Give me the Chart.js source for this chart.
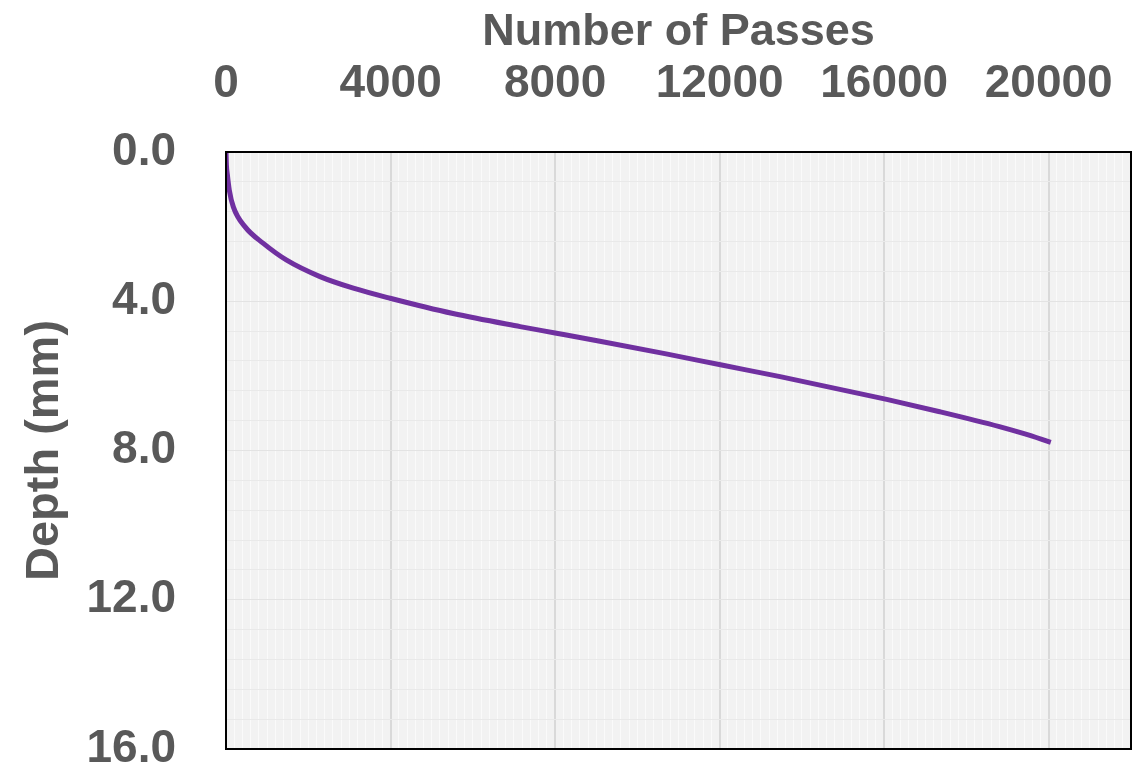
<!DOCTYPE html>
<html>
<head>
<meta charset="utf-8">
<script src="https://cdn.jsdelivr.net/npm/chart.js@4/dist/chart.umd.min.js"></script>
<style>
  html, body { margin: 0; padding: 0; background: #fff; }
  #wrap { width: 1133px; height: 770px; }
</style>
</head>
<body>
<div id="wrap"><canvas id="depthChart"></canvas></div>
<script>
// values
const passes = [0, 10, 32, 80, 178, 460, 908, 1475, 2285, 3095, 3990, 5520, 7150, 8000, 9090, 10700, 12050, 13470, 16060, 17350, 18800, 19400, 20050];
const depth  = [0, 0.35, 0.6, 1.02, 1.47, 2.0, 2.45, 2.9, 3.34, 3.65, 3.92, 4.33, 4.68, 4.85, 5.07, 5.41, 5.71, 6.02, 6.63, 6.96, 7.36, 7.55, 7.78];

const xMajor = 4000, xMinor = 200, xMax = 22000, xLastLabel = 20000;
const yMajor = 4, yMinor = 0.8, yMax = 16;

const grey = '#595959';
const fontFam = "'Liberation Sans', Arial, sans-serif";

function isMajor(v, step) {
    const r = v / step;
    return Math.abs(r - Math.round(r)) < 1e-6;
}

// light grey plot background + black frame
const plotFrame = {
    id: 'plotFrame',
    beforeDraw(chart) {
        const a = chart.chartArea, c = chart.ctx;
        c.save();
        c.fillStyle = '#f2f2f2';
        c.fillRect(a.left, a.top, a.right - a.left, a.bottom - a.top);
        c.restore();
    },
    afterDatasetsDraw(chart) {
        const a = chart.chartArea, c = chart.ctx;
        c.save();
        c.strokeStyle = '#000';
        c.lineWidth = 2;
        c.strokeRect(a.left, a.top, a.right - a.left, a.bottom - a.top);
        c.restore();
    }
};

const ctx = document.getElementById('depthChart').getContext('2d');
new Chart(ctx, {
    type: 'scatter',
    data: {
        datasets: [{
            label: 'Depth',
            data: passes.map((p, i) => ({x: p, y: depth[i]})),
            showLine: true,
            borderColor: '#7030a0',
            borderWidth: 5,
            pointRadius: 0,
            cubicInterpolationMode: 'monotone'
        }]
    },
    options: {
        responsive: true,
        maintainAspectRatio: false,
        animation: false,
        layout: { padding: { left: 17, right: 2, top: 2, bottom: 21 } },
        plugins: { legend: { display: false }, tooltip: { enabled: false } },
        scales: {
            x: {
                type: 'linear',
                position: 'top',
                min: 0, max: xMax,
                afterBuildTicks(axis) {
                    const t = [];
                    for (let v = 0; v <= xMax; v += xMinor) t.push({value: v});
                    axis.ticks = t;
                },
                afterFit(axis) {
                    axis.height = 150;
                    axis.paddingLeft = 0;
                    axis.paddingRight = 0;
                },
                ticks: {
                    autoSkip: false,
                    maxRotation: 0,
                    padding: 40,
                    color: grey,
                    font: { family: fontFam, size: 46, weight: 'bold' },
                    callback: (v) => isMajor(v, xMajor) && v <= xLastLabel ? String(v) : ''
                },
                grid: {
                    drawTicks: false,
                    color: (c) => isMajor(c.tick.value, xMajor) ? '#d9d9d9' : '#fafafa',
                    lineWidth: (c) => isMajor(c.tick.value, xMajor) ? 2 : 1
                },
                border: { display: false },
                title: {
                    display: true,
                    text: 'Number of Passes',
                    color: grey,
                    font: { family: fontFam, size: 45, weight: 'bold' },
                    padding: { top: 4, bottom: 0 }
                }
            },
            y: {
                type: 'linear',
                reverse: true,
                min: 0, max: yMax,
                afterBuildTicks(axis) {
                    const t = [];
                    for (let i = 0; i <= yMax / yMinor + 1e-9; i++) t.push({value: +(i * yMinor).toFixed(2)});
                    axis.ticks = t;
                },
                afterFit(axis) {
                    axis.width = 209;
                    axis.paddingTop = 0;
                    axis.paddingBottom = 0;
                },
                ticks: {
                    autoSkip: false,
                    padding: 50,
                    color: grey,
                    font: { family: fontFam, size: 46, weight: 'bold' },
                    callback: (v) => isMajor(v, yMajor) ? v.toFixed(1) : ''
                },
                grid: {
                    drawTicks: false,
                    color: (c) => isMajor(c.tick.value, yMajor) ? '#e3e3e3' : '#e9e9e9',
                    lineWidth: 1
                },
                border: { display: false },
                title: {
                    display: true,
                    text: 'Depth (mm)',
                    color: grey,
                    font: { family: fontFam, size: 47, weight: 'bold' },
                    padding: { top: 0, bottom: 0 }
                }
            }
        }
    },
    plugins: [plotFrame]
});
</script>
</body>
</html>
